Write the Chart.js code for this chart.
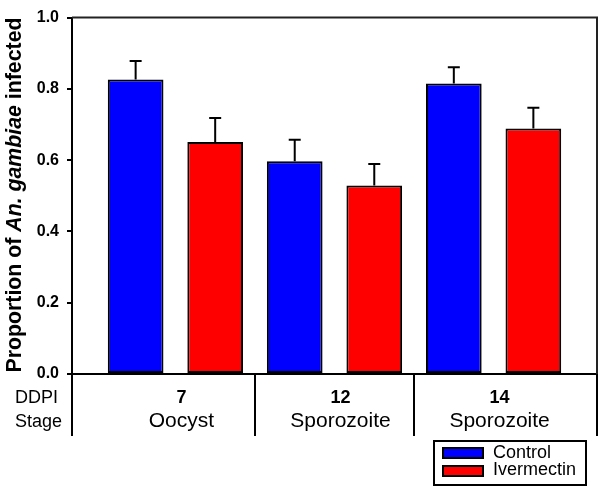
<!DOCTYPE html>
<html>
<head>
<meta charset="utf-8">
<script src="https://cdn.jsdelivr.net/npm/chart.js@4.4.1/dist/chart.umd.min.js"></script>
<style>
  html, body { margin: 0; padding: 0; background: #fff; }
  #wrap { width: 600px; height: 487px; }
</style>
</head>
<body>
<div id="wrap"><canvas id="grafik" width="600" height="487"></canvas></div>
<script>
// Data
const ddpi = ["7", "12", "14"];
const stages = ["Oocyst", "Sporozoite", "Sporozoite"];
const xPos = [1, 2, 3];
const controlMean = [0.826, 0.597, 0.815];
const controlErr = [0.052, 0.060, 0.046];
const ivermectinMean = [0.651, 0.529, 0.689];
const ivermectinErr = [0.067, 0.060, 0.058];
const yTicks = [0, 0.2, 0.4, 0.6, 0.8, 1.0];
const seriesNames = ["Control", "Ivermectin"];
const seriesColors = ["#0000ff", "#ff0000"];

const FONT = "'Liberation Sans', Arial, sans-serif";

// Error bar (atas saja)
const errorBars = {
  id: "errorBars",
  afterDatasetsDraw(chart) {
    const ctx = chart.ctx;
    const y = chart.scales.y;
    ctx.save();
    ctx.strokeStyle = "#000";
    ctx.lineWidth = 2;
    chart.data.datasets.forEach((ds, di) => {
      const meta = chart.getDatasetMeta(di);
      meta.data.forEach((bar, i) => {
        const top = y.getPixelForValue(ds.data[i].y + ds.errors[i]);
        ctx.beginPath();
        ctx.moveTo(bar.x, bar.y);
        ctx.lineTo(bar.x, top);
        ctx.moveTo(bar.x - 6, top);
        ctx.lineTo(bar.x + 6, top);
        ctx.stroke();
      });
    });
    ctx.restore();
  }
};

// Bingkai, judul sumbu y, tabel DDPI/Stage, dan legenda
const extras = {
  id: "extras",
  afterDraw(chart) {
    const ctx = chart.ctx;
    const area = chart.chartArea;
    const x = chart.scales.x;
    ctx.save();

    // bingkai atas & kanan
    ctx.strokeStyle = "#222";
    ctx.lineWidth = 2;
    ctx.beginPath();
    ctx.moveTo(area.left, area.top);
    ctx.lineTo(area.right, area.top);
    ctx.lineTo(area.right, area.bottom);
    ctx.stroke();

    // garis pemisah tabel
    ctx.strokeStyle = "#000";
    const dividers = [x.min, 1.5, 2.5, x.max];
    dividers.forEach(v => {
      const px = Math.round(x.getPixelForValue(v));
      ctx.beginPath();
      ctx.moveTo(px, area.bottom);
      ctx.lineTo(px, area.bottom + 62);
      ctx.stroke();
    });

    // label baris
    ctx.fillStyle = "#000";
    ctx.textBaseline = "alphabetic";
    ctx.textAlign = "left";
    ctx.font = `18px ${FONT}`;
    ctx.fillText("DDPI", 15, area.bottom + 29);
    ctx.fillText("Stage", 15, area.bottom + 53);

    // isi tabel
    ctx.textAlign = "center";
    xPos.forEach((v, i) => {
      const cx = x.getPixelForValue(v) + 6;
      ctx.font = `bold 18px ${FONT}`;
      ctx.fillText(ddpi[i], cx, area.bottom + 29);
      ctx.font = `21px ${FONT}`;
      ctx.fillText(stages[i], cx, area.bottom + 53);
    });

    // judul sumbu y (sebagian miring)
    const parts = [
      { text: "Proportion of ", italic: false },
      { text: "An. gambiae", italic: true },
      { text: " infected", italic: false },
    ];
    const fontOf = p => `${p.italic ? "italic " : ""}bold 21.3px ${FONT}`;
    let total = 0;
    parts.forEach(p => { ctx.font = fontOf(p); total += ctx.measureText(p.text).width; });
    ctx.translate(21, 195);
    ctx.rotate(-Math.PI / 2);
    ctx.textAlign = "left";
    let pos = -total / 2;
    parts.forEach(p => {
      ctx.font = fontOf(p);
      ctx.fillText(p.text, pos, 0);
      pos += ctx.measureText(p.text).width;
    });
    ctx.restore();

    // legenda
    ctx.save();
    ctx.strokeStyle = "#000";
    ctx.lineWidth = 2;
    ctx.strokeRect(434, 441, 152, 44);
    ctx.font = `18px ${FONT}`;
    ctx.textAlign = "left";
    chart.data.datasets.forEach((ds, i) => {
      const sy = 448 + i * 18;
      ctx.fillStyle = ds.backgroundColor;
      ctx.fillRect(443, sy, 40, 10);
      ctx.strokeRect(443, sy, 40, 10);
      ctx.fillStyle = "#000";
      ctx.fillText(ds.label, 493, 458 + i * 17);
    });
    ctx.restore();
  }
};

function buildData() {
  const means = [controlMean, ivermectinMean];
  const errs = [controlErr, ivermectinErr];
  return {
    datasets: seriesNames.map((name, s) => ({
      label: name,
      data: xPos.map((v, i) => ({ x: v, y: means[s][i] })),
      errors: errs[s],
      backgroundColor: seriesColors[s],
      borderColor: "#000",
      borderWidth: 2,
      borderSkipped: false,
      barPercentage: 0.7,
      categoryPercentage: 1.0,
    }))
  };
}

const ctx = document.getElementById("grafik").getContext("2d");
new Chart(ctx, {
  type: "bar",
  data: buildData(),
  plugins: [errorBars, extras],
  options: {
    responsive: false,
    animation: false,
    devicePixelRatio: 1,
    layout: { padding: { top: 7, right: 3, left: 0, bottom: 0 } },
    plugins: { legend: { display: false }, tooltip: { enabled: false } },
    scales: {
      x: {
        type: "linear",
        min: 0.35,
        max: 3.65,
        offset: false,
        afterBuildTicks: scale => { scale.ticks = xPos.map(v => ({ value: v })); },
        afterFit: scale => { scale.height = 113; },
        ticks: { display: false },
        grid: { display: false, offset: false },
        border: { display: true, color: "#000", width: 2 },
      },
      y: {
        min: 0,
        max: 1,
        afterBuildTicks: scale => { scale.ticks = yTicks.map(v => ({ value: v })); },
        afterFit: scale => { scale.width = 72; },
        ticks: {
          padding: 8,
          color: "#000",
          font: { family: FONT, size: 16, weight: "bold" },
          callback: v => v.toFixed(1),
        },
        grid: { drawOnChartArea: false, tickLength: 5, color: "#000", lineWidth: 2 },
        border: { display: true, color: "#000", width: 2 },
      }
    }
  }
});
</script>
</body>
</html>
